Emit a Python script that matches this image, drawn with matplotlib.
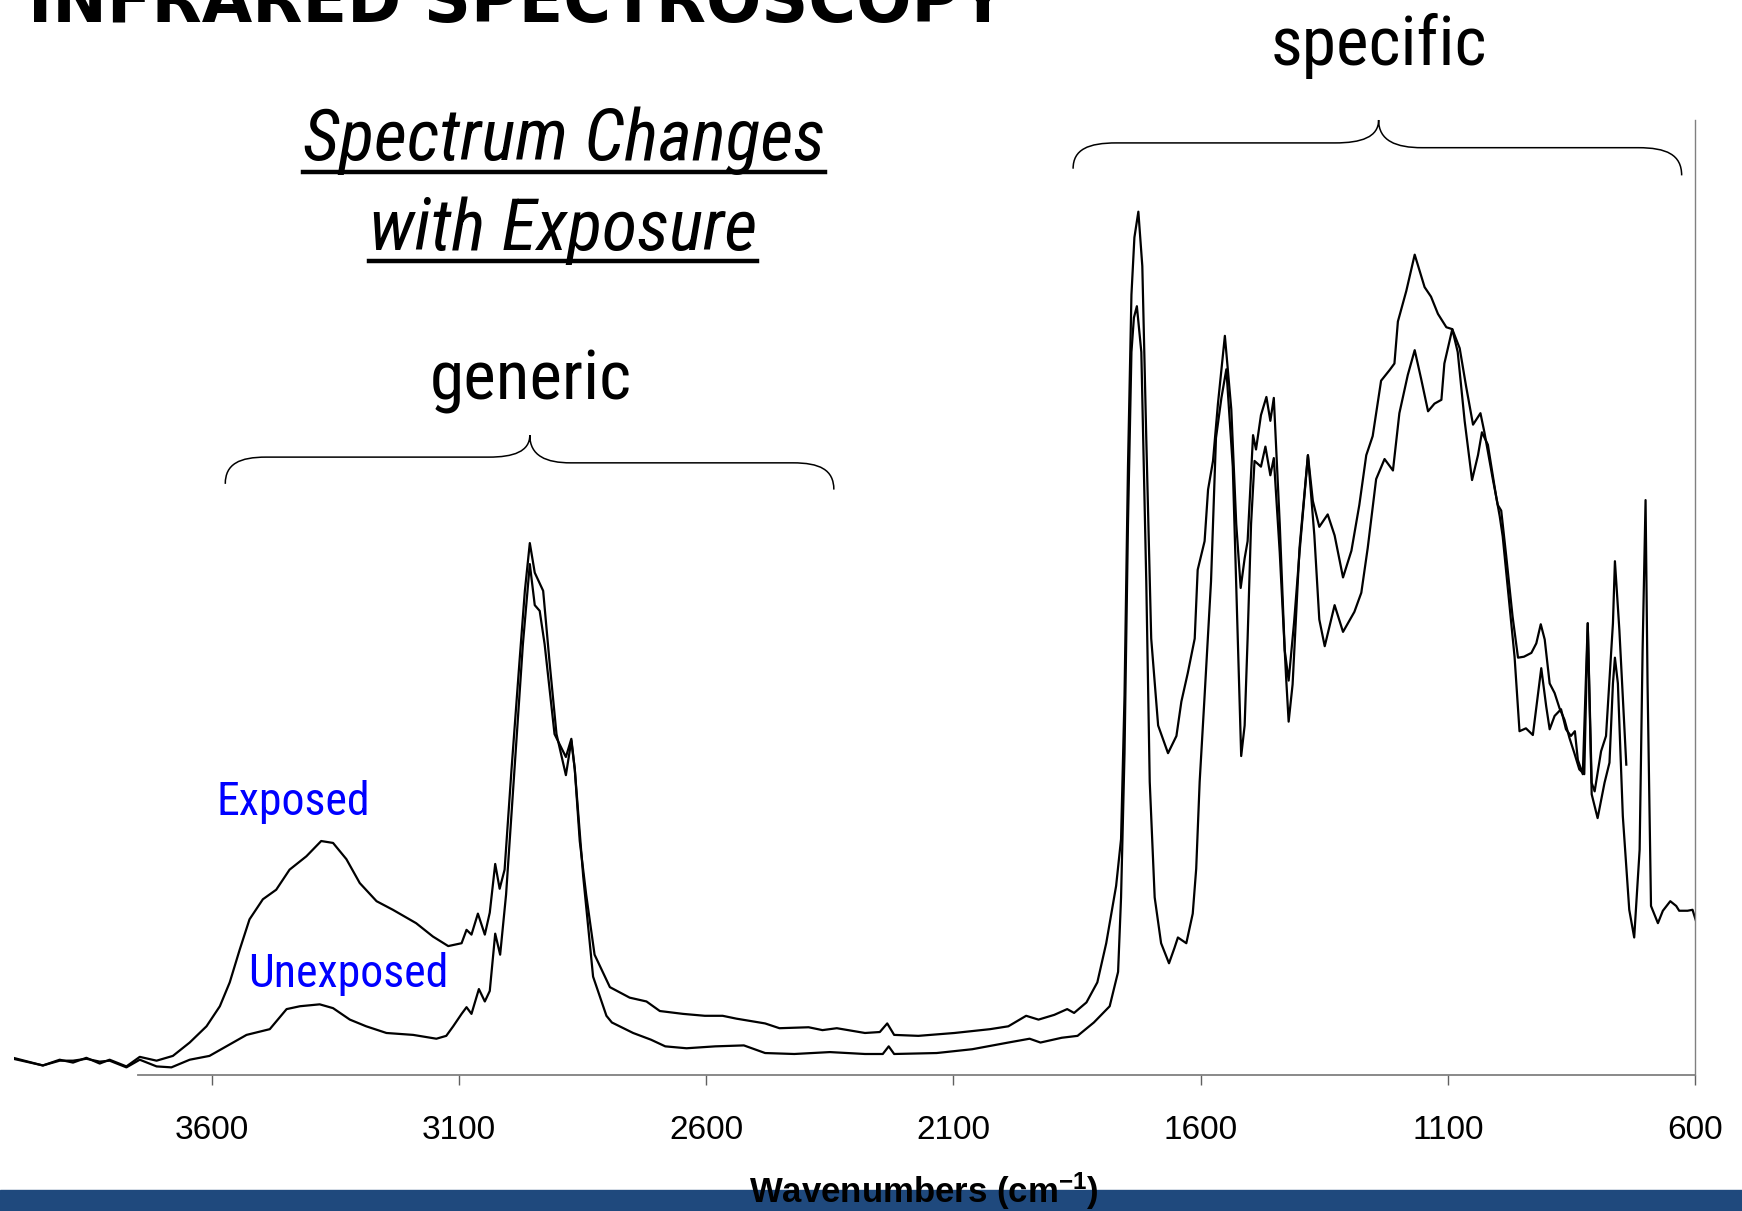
import matplotlib
matplotlib.use("Agg")
import matplotlib.pyplot as plt
from matplotlib import font_manager
from matplotlib.path import Path
from matplotlib.patches import PathPatch, Rectangle
from matplotlib.lines import Line2D

# IR spectra: wavenumber (cm-1) and absorbance (arb. units)
exposed_wn = [4002, 3942, 3908, 3881, 3854, 3827, 3807, 3773, 3746, 3712, 3679, 3645,
              3611, 3584, 3564, 3544, 3524, 3497, 3470, 3443, 3409, 3379, 3355, 3328,
              3301, 3267, 3234, 3187, 3153, 3122, 3095, 3085, 3075, 3062, 3048, 3038,
              3027, 3018, 3008, 2994, 2978, 2967, 2957, 2947, 2930, 2917, 2903, 2884,
              2873, 2866, 2856, 2843, 2826, 2795, 2755, 2721, 2694, 2647, 2603, 2567,
              2539, 2481, 2452, 2393, 2365, 2336, 2279, 2249, 2234, 2220, 2171, 2098,
              2026, 1989, 1953, 1928, 1896, 1870, 1856, 1831, 1809, 1791, 1771, 1761,
              1754, 1747, 1740, 1734, 1726, 1718, 1710, 1700, 1686, 1666, 1649, 1639,
              1626, 1612, 1606, 1592, 1585, 1575, 1565, 1551, 1538, 1528, 1519, 1511,
              1505, 1494, 1488, 1478, 1467, 1459, 1452, 1440, 1430, 1422, 1411, 1400,
              1383, 1373, 1360, 1343, 1329, 1312, 1295, 1279, 1265, 1252, 1235, 1218,
              1208, 1201, 1184, 1167, 1147, 1134, 1120, 1103, 1091, 1076, 1063, 1049,
              1034, 1026, 1009, 999, 992, 982, 969, 958, 946, 931, 921, 912,
              904, 894, 884, 874, 864, 854, 844, 834, 824, 817, 809, 803,
              790, 780, 766, 762, 753, 739]
exposed_abs = [0.018, 0.010, 0.016, 0.013, 0.018, 0.012, 0.016, 0.009, 0.019, 0.015, 0.020, 0.034,
               0.051, 0.072, 0.097, 0.131, 0.163, 0.184, 0.194, 0.215, 0.229, 0.245, 0.243, 0.226,
               0.201, 0.182, 0.173, 0.159, 0.145, 0.135, 0.138, 0.152, 0.147, 0.169, 0.147, 0.170,
               0.221, 0.195, 0.215, 0.320, 0.432, 0.507, 0.557, 0.526, 0.507, 0.432, 0.357, 0.314,
               0.350, 0.320, 0.245, 0.189, 0.126, 0.092, 0.081, 0.077, 0.067, 0.064, 0.062, 0.062,
               0.059, 0.054, 0.049, 0.050, 0.047, 0.049, 0.044, 0.045, 0.054, 0.042, 0.041, 0.044,
               0.048, 0.051, 0.062, 0.058, 0.063, 0.069, 0.065, 0.076, 0.097, 0.138, 0.198, 0.247,
               0.397, 0.637, 0.817, 0.877, 0.904, 0.847, 0.667, 0.457, 0.366, 0.337, 0.355, 0.391,
               0.421, 0.457, 0.529, 0.559, 0.613, 0.643, 0.703, 0.774, 0.697, 0.577, 0.510, 0.541,
               0.559, 0.670, 0.655, 0.691, 0.710, 0.685, 0.709, 0.577, 0.445, 0.413, 0.474, 0.547,
               0.649, 0.601, 0.574, 0.587, 0.565, 0.521, 0.549, 0.597, 0.649, 0.669, 0.727, 0.738,
               0.745, 0.789, 0.821, 0.859, 0.825, 0.815, 0.797, 0.783, 0.781, 0.761, 0.721, 0.681,
               0.693, 0.673, 0.624, 0.597, 0.591, 0.544, 0.480, 0.437, 0.438, 0.442, 0.452, 0.472,
               0.456, 0.410, 0.400, 0.384, 0.372, 0.353, 0.337, 0.320, 0.315, 0.473, 0.306, 0.297,
               0.339, 0.355, 0.473, 0.538, 0.466, 0.325]

unexposed_wn = [4002, 3942, 3908, 3881, 3854, 3827, 3807, 3773, 3746, 3712, 3682, 3645,
                3605, 3564, 3530, 3483, 3449, 3422, 3382, 3355, 3321, 3288, 3247, 3193,
                3146, 3126, 3112, 3095, 3085, 3075, 3060, 3048, 3038, 3027, 3017, 3005,
                2988, 2971, 2957, 2947, 2937, 2927, 2907, 2884, 2873, 2866, 2849, 2829,
                2802, 2791, 2748, 2712, 2683, 2640, 2582, 2524, 2481, 2422, 2350, 2279,
                2243, 2231, 2220, 2134, 2062, 1989, 1946, 1924, 1881, 1849, 1816, 1784,
                1767, 1761, 1754, 1747, 1740, 1735, 1729, 1720, 1710, 1703, 1693, 1680,
                1664, 1653, 1646, 1629, 1616, 1609, 1602, 1592, 1579, 1569, 1558, 1548,
                1535, 1525, 1518, 1511, 1505, 1498, 1491, 1478, 1469, 1459, 1452, 1440,
                1427, 1422, 1414, 1400, 1383, 1370, 1360, 1349, 1329, 1312, 1289, 1275,
                1262, 1245, 1228, 1211, 1198, 1181, 1167, 1154, 1140, 1127, 1113, 1107,
                1091, 1080, 1066, 1051, 1039, 1031, 1019, 1002, 995, 989, 975, 965,
                955, 942, 928, 911, 901, 894, 884, 871, 861, 851, 843, 837,
                827, 817, 809, 797, 783, 773, 766, 762, 756, 746, 733, 723,
                712, 706, 700, 696, 689, 675, 665, 650, 638, 632, 615, 605, 596]
unexposed_abs = [0.017, 0.010, 0.015, 0.015, 0.017, 0.014, 0.015, 0.008, 0.016, 0.009, 0.008, 0.016,
                 0.020, 0.032, 0.042, 0.048, 0.069, 0.072, 0.074, 0.070, 0.058, 0.051, 0.044, 0.042,
                 0.038, 0.041, 0.051, 0.064, 0.071, 0.064, 0.090, 0.077, 0.088, 0.148, 0.126, 0.189,
                 0.320, 0.451, 0.535, 0.492, 0.486, 0.451, 0.357, 0.333, 0.352, 0.320, 0.208, 0.103,
                 0.062, 0.055, 0.044, 0.037, 0.030, 0.028, 0.030, 0.031, 0.023, 0.022, 0.024, 0.022,
                 0.022, 0.030, 0.022, 0.023, 0.027, 0.034, 0.038, 0.034, 0.039, 0.041, 0.055, 0.072,
                 0.108, 0.186, 0.337, 0.577, 0.757, 0.793, 0.805, 0.757, 0.517, 0.307, 0.186, 0.138,
                 0.117, 0.133, 0.144, 0.138, 0.169, 0.216, 0.307, 0.397, 0.517, 0.667, 0.709, 0.739,
                 0.637, 0.457, 0.334, 0.366, 0.457, 0.577, 0.643, 0.637, 0.658, 0.628, 0.646, 0.547,
                 0.415, 0.370, 0.409, 0.552, 0.649, 0.565, 0.477, 0.449, 0.492, 0.464, 0.485, 0.505,
                 0.552, 0.624, 0.645, 0.633, 0.693, 0.733, 0.759, 0.729, 0.695, 0.703, 0.707, 0.745,
                 0.781, 0.757, 0.685, 0.623, 0.649, 0.673, 0.660, 0.605, 0.585, 0.564, 0.491, 0.438,
                 0.360, 0.363, 0.356, 0.426, 0.386, 0.362, 0.376, 0.383, 0.362, 0.355, 0.360, 0.330,
                 0.315, 0.473, 0.294, 0.269, 0.306, 0.327, 0.410, 0.437, 0.410, 0.271, 0.173, 0.144,
                 0.236, 0.445, 0.602, 0.410, 0.177, 0.159, 0.172, 0.182, 0.177, 0.172, 0.172, 0.173, 0.158]

tick_values = [3600, 3100, 2600, 2100, 1600, 1100, 600]

# narrow face for the slide annotations, if one is installed
installed = {f.name for f in font_manager.fontManager.ttflist}
narrow = next((f for f in ["Liberation Sans Narrow", "Arial Narrow", "Roboto Condensed",
                           "DejaVu Sans Condensed"] if f in installed), "Liberation Sans")
plt.rcParams["font.family"] = ["Liberation Sans", "DejaVu Sans"]
plt.rcParams["mathtext.default"] = "regular"

fig = plt.figure(figsize=(17.42, 12.11), dpi=100)
ax = fig.add_axes([0.00815, 0.1123, 0.96487, 0.78861])
ax.set_xlim(4000, 600)
ax.set_ylim(0, 1)

ax.plot(exposed_wn, exposed_abs, color="black", lw=1.6)
ax.plot(unexposed_wn, unexposed_abs, color="black", lw=1.6)

for side in ["left", "top"]:
    ax.spines[side].set_visible(False)
ax.spines["bottom"].set_color("#808080")
ax.spines["bottom"].set_linewidth(1.3)
ax.spines["bottom"].set_bounds(3750, 600)
ax.spines["right"].set_color("#808080")
ax.spines["right"].set_linewidth(1.0)
ax.set_yticks([])
ax.set_xticks(tick_values)
ax.set_xticklabels([str(t) for t in tick_values])
ax.tick_params(axis="x", direction="out", length=7, width=1, color="#606060",
               labelsize=24, pad=22)

# curly braces over the two regions
def brace(x_l, x_t, x_r, y_el, y_ll, y_t, y_lr, y_er, dx):
    s = -1  # axis is reversed
    verts = [(x_l, y_el),
             (x_l, y_el + 0.75 * (y_ll - y_el)), (x_l + s * 0.35 * dx, y_ll), (x_l + s * dx, y_ll),
             (x_t - s * dx, y_ll),
             (x_t - s * 0.4 * dx, y_ll), (x_t, y_ll + 0.25 * (y_t - y_ll)), (x_t, y_t),
             (x_t, y_lr + 0.25 * (y_t - y_lr)), (x_t + s * 0.4 * dx, y_lr), (x_t + s * dx, y_lr),
             (x_r - s * dx, y_lr),
             (x_r - s * 0.35 * dx, y_lr), (x_r, y_er + 0.75 * (y_lr - y_er)), (x_r, y_er)]
    codes = [Path.MOVETO, Path.CURVE4, Path.CURVE4, Path.CURVE4, Path.LINETO,
             Path.CURVE4, Path.CURVE4, Path.CURVE4, Path.CURVE4, Path.CURVE4, Path.CURVE4,
             Path.LINETO, Path.CURVE4, Path.CURVE4, Path.CURVE4]
    ax.add_patch(PathPatch(Path(verts, codes), fill=False, lw=1.1, color="black",
                           clip_on=False))

brace(3573, 2957, 2342, 0.619, 0.647, 0.670, 0.641, 0.613, 83)
brace(1858, 1240, 627, 0.949, 0.976, 1.000, 0.971, 0.942, 88)

ax.text(2954, 0.707, "generic", ha="center", va="baseline", fontsize=50,
        family=[narrow, "DejaVu Sans"])
ax.text(1240, 1.058, "specific", ha="center", va="baseline", fontsize=50,
        family=[narrow, "DejaVu Sans"])
ax.text(3436, 0.272, "Exposed", ha="center", va="baseline", fontsize=33,
        color="#0000ff", family=[narrow, "DejaVu Sans"])
ax.text(3325, 0.092, "Unexposed", ha="center", va="baseline", fontsize=33,
        color="#0000ff", family=[narrow, "DejaVu Sans"])

t1 = ax.text(2888, 0.958, "Spectrum Changes", ha="center", va="baseline", fontsize=52,
             style="italic", family=[narrow, "DejaVu Sans"])
t2 = ax.text(2890, 0.864, "with Exposure", ha="center", va="baseline", fontsize=52,
             style="italic", family=[narrow, "DejaVu Sans"])

fig.text(0.016, 0.9818, "INFRARED SPECTROSCOPY", ha="left", va="baseline",
         fontsize=47, fontweight="bold", family=["DejaVu Sans"])

# slide footer band and axis title
fig.patches.append(Rectangle((0, 0), 1, 0.0173, transform=fig.transFigure,
                             color="#1f497d", zorder=1))
fig.text(0.5304, 0.0069, r"Wavenumbers (cm$^{-1}$)", ha="center", va="baseline",
         fontsize=25, fontweight="bold", zorder=3)

# underline the italic heading
fig.canvas.draw()
renderer = fig.canvas.get_renderer()
W, H = fig.bbox.width, fig.bbox.height
for t, yv in [(t1, 0.946), (t2, 0.852)]:
    bb = t.get_window_extent(renderer)
    yd = ax.transData.transform((2000, yv))[1] / H
    fig.add_artist(Line2D([bb.x0 / W, bb.x1 / W], [yd, yd], transform=fig.transFigure,
                          color="black", lw=3.2))

fig.savefig("out.png", dpi=100)
